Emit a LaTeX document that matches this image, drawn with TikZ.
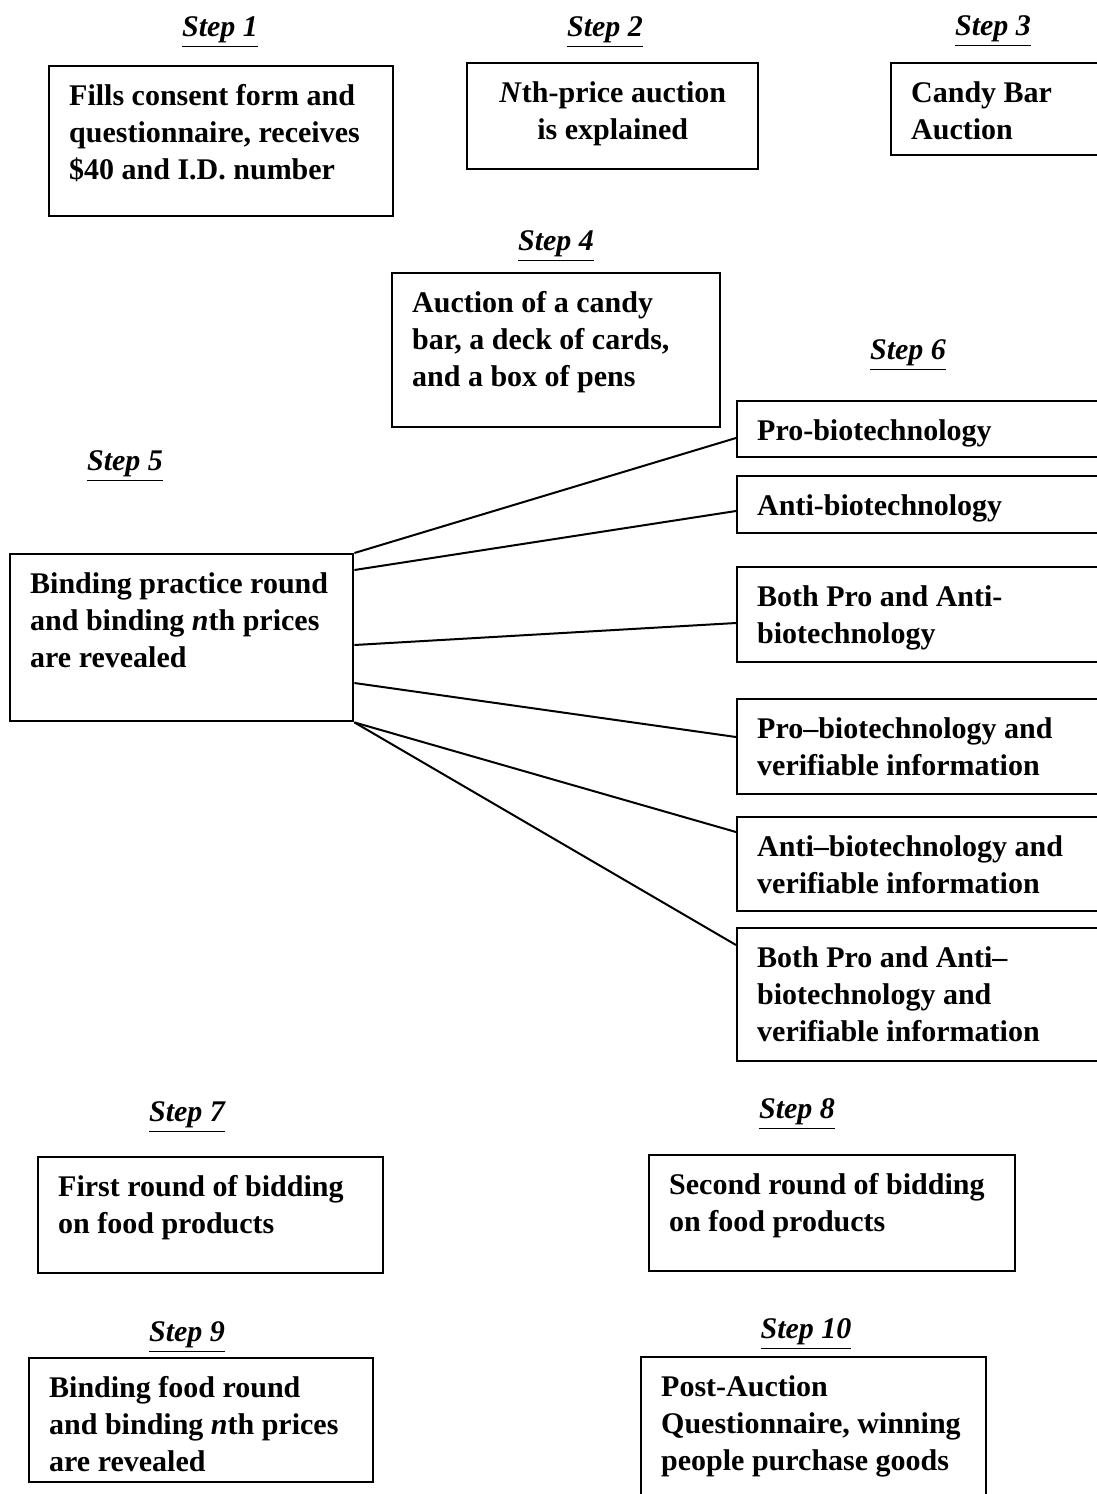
\documentclass[tikz,border=0pt]{standalone}
\usepackage{fontspec}
\setmainfont{Liberation Serif}
\usetikzlibrary{calc}

\tikzset{
	box/.style={draw, line width=1.2pt, anchor=north west, align=flush left,
		inner xsep=10pt, inner ysep=7pt, text height=12.5pt,
		font=\fontsize{15pt}{18.5pt}\selectfont\bfseries},
	steplabel/.style={font=\fontsize{15pt}{18pt}\selectfont\bfseries\itshape}
}
\newcommand{\steptitle}[1]{\underline{Step #1}}

\begin{document}
\begin{tikzpicture}[x=0.5pt,y=-0.5pt,line width=1pt]
\clip (0,0) rectangle (1097,1494);

% step titles
\node[steplabel] (l1) at (220,32) {\steptitle{1}};
\node[steplabel] (l2) at (605,32) {\steptitle{2}};
\node[steplabel] (l3) at (993,31) {\steptitle{3}};
\node[steplabel] (l4) at (556,246) {\steptitle{4}};
\node[steplabel] (l5) at (125,466) {\steptitle{5}};
\node[steplabel] (l6) at (908,355) {\steptitle{6}};
\node[steplabel] (l7) at (187,1117) {\steptitle{7}};
\node[steplabel] (l8) at (797,1114) {\steptitle{8}};
\node[steplabel] (l9) at (187,1337) {\steptitle{9}};
\node[steplabel] (l10) at (806,1334) {\steptitle{10}};

% boxes
\node[box, text width=152pt, text depth=48.5pt] (s1) at (48,65) {Fills consent form and\\ questionnaire, receives\\ \$40 and I.D. number};
\node[box, align=flush center, text width=125.5pt, text depth=26.5pt] (s2) at (466,62) {\textit{N}th-price auction\\ is explained};
\node[box, text width=90pt, text depth=19.5pt] (s3) at (890,62) {Candy Bar\\ Auction};
\node[box, text width=144pt, text depth=50.5pt] (s4) at (391,272) {Auction of a candy\\ bar, a deck of cards,\\ and a box of pens};
\node[box, text width=151.5pt, text depth=57pt] (s5) at (9,553) {Binding practice round\\ and binding \textit{n}th prices\\ are revealed};

% step 6 treatments
\node[box, text width=167pt, text depth=1.5pt] (o1) at (736,400) {Pro-biotechnology};
\node[box, text width=167pt, text depth=2pt] (o2) at (736,475) {Anti-biotechnology};
\node[box, text width=167pt, text depth=21pt] (o3) at (736,566) {Both Pro and Anti-\\ biotechnology};
\node[box, text width=167pt, text depth=21pt] (o4) at (736,698) {Pro--biotechnology and\\ verifiable information};
\node[box, text width=167pt, text depth=20.5pt] (o5) at (736,816) {Anti--biotechnology and\\ verifiable information};
\node[box, text width=167pt, text depth=40pt] (o6) at (736,927) {Both Pro and Anti--\\ biotechnology and\\ verifiable information};

\node[box, text width=152.5pt, text depth=31.5pt] (s7) at (37,1156) {First round of bidding\\ on food products};
\node[box, text width=163pt, text depth=31.5pt] (s8) at (648,1154) {Second round of bidding\\ on food products};
\node[box, text width=152pt, text depth=35.5pt] (s9) at (28,1357) {Binding food round\\ and binding \textit{n}th prices\\ are revealed};
\node[box, text width=152.5pt, text depth=53.5pt] (s10) at (640,1356) {Post-Auction\\ Questionnaire, winning\\ people purchase goods};

% fan from step 5 to step 6
\draw (s5.north east) -- ([yshift=-19pt]o1.north west);
\draw ([yshift=-8.5pt]s5.north east) -- ([yshift=-18pt]o2.north west);
\draw ([yshift=-46pt]s5.north east) -- ([yshift=-28.5pt]o3.north west);
\draw ([yshift=-65pt]s5.north east) -- ([yshift=-19.5pt]o4.north west);
\draw (s5.south east) -- ([yshift=-8pt]o5.north west);
\draw (s5.south east) -- ([yshift=-9pt]o6.north west);

\end{tikzpicture}
\end{document}
